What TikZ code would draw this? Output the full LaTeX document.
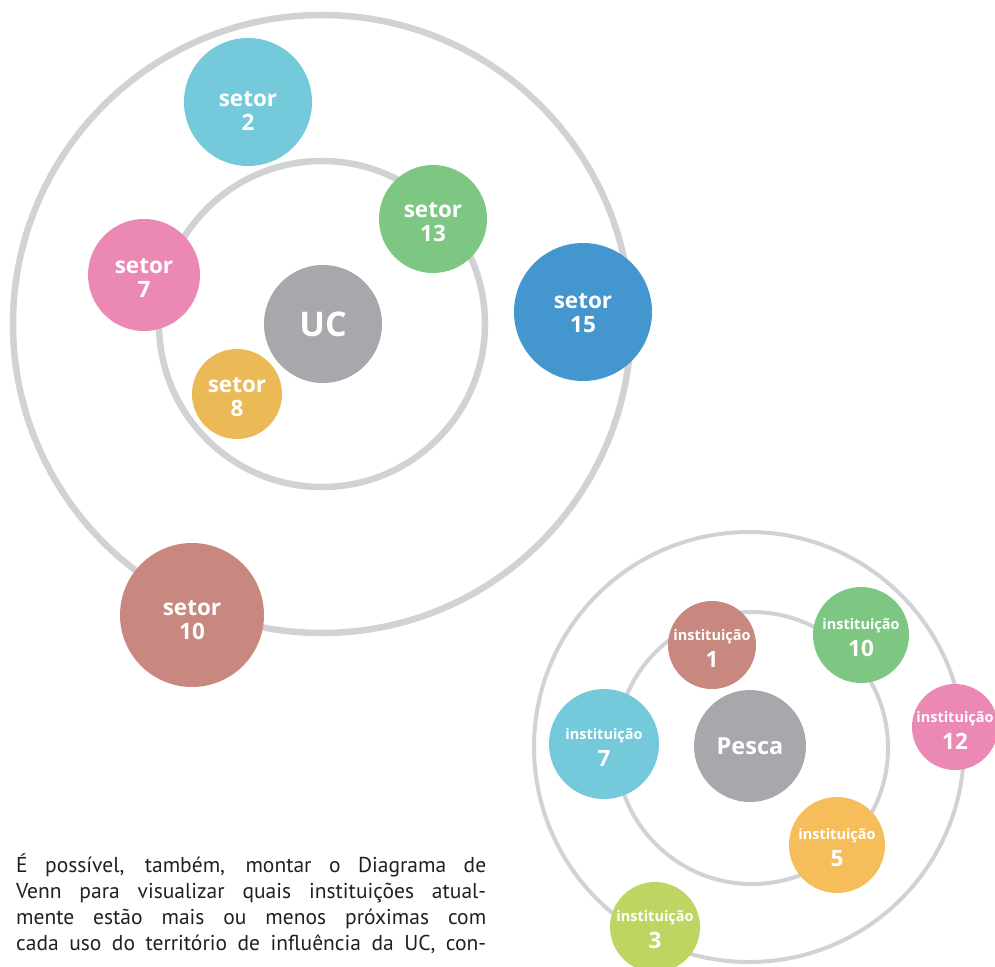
\documentclass[tikz,border=0pt]{standalone}
\usepackage{fontspec}
\setmainfont{PT Sans}
\newfontfamily\labelfont{Open Sans}
\usepackage{xcolor}
\usetikzlibrary{positioning}

\definecolor{ringgray}{HTML}{D1D2D4}
\definecolor{coregray}{HTML}{A7A8AC}
\definecolor{skyblue}{HTML}{74C9DA}
\definecolor{leaf}{HTML}{7EC783}
\definecolor{rosepink}{HTML}{EC88B4}
\definecolor{deepblue}{HTML}{4496CF}
\definecolor{mustard}{HTML}{EBBA56}
\definecolor{amber}{HTML}{F6BE5A}
\definecolor{clay}{HTML}{C8877F}
\definecolor{lime}{HTML}{BDD661}
\definecolor{inkgray}{HTML}{231F20}

\begin{document}
\begin{tikzpicture}[x=1pt, y=-1pt,
    ring/.style={draw=ringgray},
    blob/.style={circle, inner sep=0pt, text=white, align=center},
    tag/.style={inner sep=0pt, text=white, align=center, font=\labelfont\bfseries\fontsize{22.5}{24}\selectfont}]
    \useasboundingbox (0,0) rectangle (995,966);
    \clip (0,0) rectangle (995,966);

    % UC rings
    \draw[ring, line width=6.5pt] (322,324) circle[radius=309pt];
    \draw[ring, line width=6.5pt] (322,324) circle[radius=163pt];

    % UC
    \node[blob, fill=coregray, minimum size=118pt, font=\labelfont\bfseries\fontsize{34}{34}\selectfont] (uc) at (323,324) {UC};

    % sectors
    \foreach \n/\x/\y/\r/\c/\dy in {2/248/102/64/skyblue/9, 13/433/219/54/leaf/3, 7/144/275/56/rosepink/3,
                                     15/583/312/69/deepblue/1, 8/237/394/45/mustard/3, 10/192/615/72/clay/5} {
        \node[blob, fill=\c, minimum size={2*\r pt}] (setor\n) at (\x,\y) {};
        \node[tag] (setor\n-txt) at ([yshift=-\dy pt]setor\n.center) {setor\\\n};
    }

    % Pesca rings
    \draw[ring, line width=4pt] (749,747) circle[radius=215pt];
    \draw[ring, line width=4pt] (752,748) circle[radius=136pt];

    % Pesca
    \node[blob, fill=coregray, minimum size=112pt, font=\labelfont\bfseries\fontsize{23.5}{24}\selectfont] (pesca) at (750,746) {Pesca};

    % institutions
    \foreach \n/\x/\y/\r/\c in {1/712/645/44/clay, 10/861/635/48/leaf, 12/955/727/43/rosepink,
                                7/604/744/55/skyblue, 5/837/845/48/amber, 3/655/927/45/lime} {
        \node[blob, fill=\c, minimum size={2*\r pt}] (inst\n) at (\x,\y) {};
        \node[tag] (inst\n-txt) at ([yshift=-3pt]inst\n.center)
            {{\fontsize{14.5}{23}\selectfont instituição}\\[3pt]\n};
    }

    % paragraph
    \node[anchor=base west, inner sep=0pt, align=left, text=inkgray, font=\fontsize{21.5}{26}\selectfont] (para) at (16,950)
        {\makebox[470pt][s]{É possível, também, montar o Diagrama de}\\
         \makebox[470pt][s]{Venn para visualizar quais instituições atual-}\\
         \makebox[470pt][s]{mente estão mais ou menos próximas com}\\
         \makebox[470pt][s]{cada uso do território de influência da UC, con-}};
\end{tikzpicture}
\end{document}
